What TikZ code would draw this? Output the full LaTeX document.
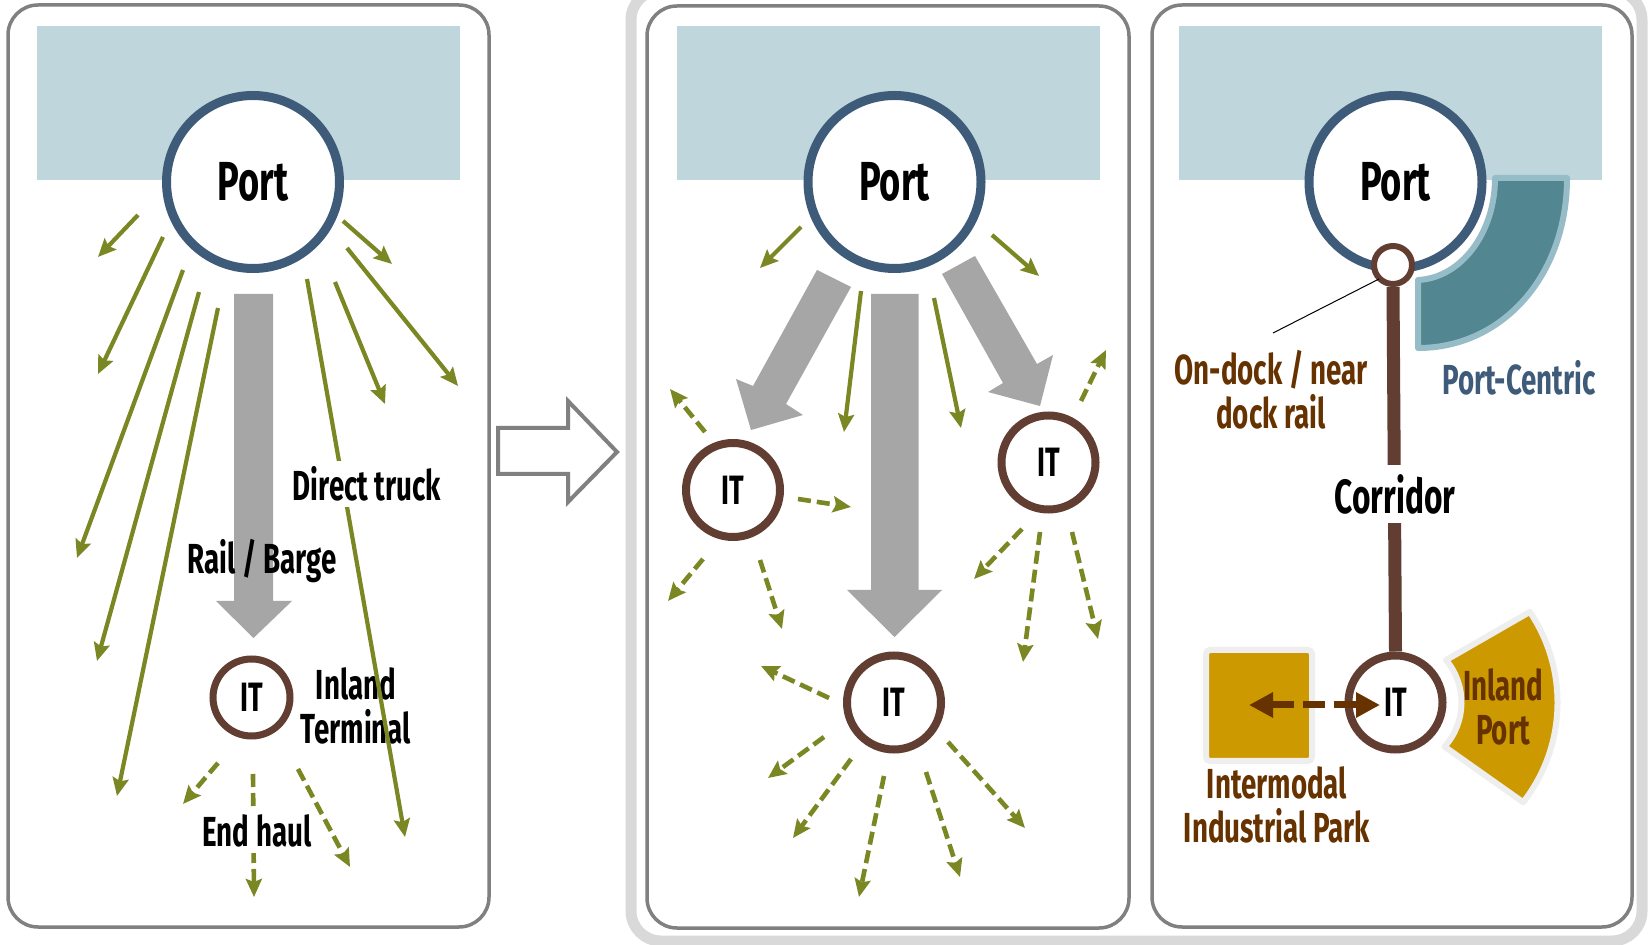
\documentclass[tikz,border=0pt]{standalone}
\usepackage{fontspec}
\setmainfont{Fira Sans}[FakeStretch=0.66]
\usetikzlibrary{arrows.meta,calc}
\definecolor{seac}{RGB}{192,214,221}
\definecolor{portc}{RGB}{62,92,122}
\definecolor{itc}{RGB}{97,62,49}
\definecolor{olivec}{RGB}{122,135,35}
\definecolor{greyarr}{RGB}{166,166,166}
\definecolor{panelc}{RGB}{128,128,128}
\definecolor{bandc}{RGB}{217,217,217}
\definecolor{tealc}{RGB}{82,134,144}
\definecolor{tealb}{RGB}{150,189,199}
\definecolor{goldc}{RGB}{204,153,0}
\definecolor{goldb}{RGB}{238,238,238}
\definecolor{btext}{RGB}{102,51,0}
\begin{document}
\begin{tikzpicture}[x=0.5pt,y=-0.5pt,
  panel/.style={draw=panelc, line width=1.75pt, rounded corners=15pt, fill=white},
  seabox/.style={fill=seac},
  portnode/.style={circle, draw=portc, line width=4.5pt, fill=white, minimum size=86.5pt, inner sep=0pt, font=\fontsize{27.5pt}{30pt}\selectfont\bfseries},
  itnode/.style={circle, draw=itc, line width=4pt, fill=white, minimum size=47pt, inner sep=0pt, font=\fontsize{20.5pt}{22pt}\selectfont\bfseries},
  itsmall/.style={itnode, line width=3.5pt, minimum size=38.5pt},
  truck/.style={draw=olivec, line width=2.1pt, -{Stealth[length=9pt,width=8pt,inset=1.5pt]}},
  endhaul/.style={truck, line width=2.3pt, dash pattern=on 6.5pt off 3pt},
  bigarrow/.style={fill=greyarr},
  lbl/.style={font=\fontsize{21pt}{22pt}\selectfont\bfseries, align=center, inner sep=1pt},
  brownarrow/.style={draw=btext, line width=3.5pt, dash pattern=on 11pt off 4.5pt, {Triangle[length=12pt,width=12pt]}-{Triangle[length=12pt,width=12pt]}}
]
\useasboundingbox (0,0) rectangle (1649,945);
\fill[white] (0,0) rectangle (1649,945);

% outer band round panels 2 and 3
\draw[bandc, line width=5.5pt, rounded corners=15pt] (631,-10) rectangle (1642,941);

% panels
\draw[panel] (8,5) rectangle (489,927);
\draw[panel] (647,6) rectangle (1129,928);
\draw[panel] (1152,5) rectangle (1632,927);

% sea
\fill[seabox] (37,26) rectangle (460,180);
\fill[seabox] (677,26) rectangle (1100,180);
\fill[seabox] (1179,26) rectangle (1602,180);

% hollow arrow between panels
\draw[panelc, line width=2pt, fill=white, line join=miter] (498,428) -- (568,428) -- (568,401) -- (617,452) -- (568,502) -- (568,474) -- (498,474) -- cycle;

%================ Panel 1
\fill[bigarrow] (234,294) -- (273,294) -- (273,601) -- (292,601) -- (253.5,638) -- (216,601) -- (234,601) -- cycle;
\node[portnode] (port1) at (253,182) {Port};
\node[itsmall] (it1) at (251.5,697.5) {IT};
\node[lbl] (inlandt) at (356,706) {Inland\\Terminal};
\foreach \a/\b/\c/\d [count=\i] in {138/215/98/257, 163/237/98/374, 183/270/77/558, 199/292/97/661, 218/308/117/796, 343/221/392/264, 347/248/458/386, 335/282/385/404, 307/279/405/837}{
  \coordinate (pa\i) at (\a,\b);
  \coordinate (pb\i) at (\c,\d);
  \draw[truck] (pa\i) -- (pb\i);
}
\foreach \a/\b/\c/\d [count=\i] in {218/763/183/804, 253/774/254/897, 298/769/350/867}{
  \coordinate (qa\i) at (\a,\b);
  \coordinate (qb\i) at (\c,\d);
  \draw[endhaul] (qa\i) -- (qb\i);
}
\node[lbl, fill=white, inner sep=3pt] (dtruck) at (367,484) {Direct truck};
\node[lbl] (rail) at (262,561) {Rail / Barge};
\node[lbl, fill=white, inner sep=3pt] (endh) at (257,831) {End haul};

%================ Panel 2
\fill[bigarrow] (871,294) -- (918.5,294) -- (918.5,590) -- (942,590) -- (894.5,637) -- (847,590) -- (871,590) -- cycle;
\fill[bigarrow] (817,270) -- (851,287) -- (786,404) -- (803,415) -- (751,430) -- (736,379) -- (753,386) -- cycle;
\fill[bigarrow] (942,274) -- (975,256) -- (1037,364) -- (1053,355) -- (1040,406) -- (988,392) -- (1003,383) -- cycle;
\node[portnode] (port2) at (894.5,182) {Port};
\node[itnode] (itL) at (733,490) {IT};
\node[itnode] (itR) at (1048.5,462.5) {IT};
\node[itnode] (itB) at (894,702.5) {IT};
\foreach \a/\b/\c/\d [count=\i] in {801/227/760/268, 992/235/1039/276, 861/291/844/432, 934/298/961/428}{
  \coordinate (ra\i) at (\a,\b);
  \coordinate (rb\i) at (\c,\d);
  \draw[truck] (ra\i) -- (rb\i);
}
\foreach \a/\b/\c/\d [count=\i] in {705/432/670/389, 798/499/851/507, 703/559/668/601, 760/560/782/629, 1081/401/1106/350, 1022/529/974/579, 1040/532/1023/662, 1072/532/1098/639, 829/698/761/666, 824/737/768/778, 851/759/793/838, 884/776/859/897, 926/772/960/877, 948/742/1025/828}{
  \coordinate (sa\i) at (\a,\b);
  \coordinate (sb\i) at (\c,\d);
  \draw[endhaul] (sa\i) -- (sb\i);
}

%================ Panel 3
\path[fill=tealc, draw=tealb, line width=3pt, line join=round] (1567,178) .. controls (1567,275) and (1503,348) .. (1418,348) -- (1418,280) .. controls (1461,278) and (1495,233) .. (1495,178) -- cycle;
\node[portnode] (port3) at (1395.5,182) {Port};
\node[itnode] (it3) at (1395.5,702.5) {};
\node[circle, draw=itc, line width=3pt, fill=white, minimum size=19pt, inner sep=0pt] (dockc) at (1393,265) {};
\draw[itc, line width=6.5pt] (dockc.south) -- (it3.north);
\node[lbl, fill=white, inner xsep=2pt, inner ysep=4.5pt, font=\fontsize{24pt}{26pt}\selectfont\bfseries] (corr) at (1395,494) {Corridor};
\coordinate (ldA) at (1379,279);
\coordinate (ldB) at (1273,333);
\draw[black, line width=0.5pt] (ldA) -- (ldB);
\node[lbl, text=btext] (dock) at (1271,390) {On-dock / near\\dock rail};
\node[lbl, text=portc] (pc) at (1519,378) {Port-Centric};

% inland port sector
\path[fill=goldc, draw=goldb, line width=3pt, line join=round]
  ($(it3.center)+(-34:162)$) arc[start angle=-34, end angle=38, radius=162]
  -- ($(it3.center)+(42:66)$) arc[start angle=42, end angle=-40, radius=66] -- cycle;
\node[lbl, text=btext] (inp) at (1503,707) {Inland\\Port};

% intermodal industrial park
\path[fill=goldc, draw=goldb, line width=3pt, rounded corners=2pt] (1206,650) rectangle (1312,761);
\node[lbl, text=btext] (imp) at (1277,805) {Intermodal\\Industrial Park};

\coordinate (dl) at (1249,705);
\coordinate (dr) at (1380,705);
\draw[brownarrow] (dl) -- (dr);
\node[font=\fontsize{20.5pt}{22pt}\selectfont\bfseries, inner sep=0pt] (it3t) at (it3.center) {IT};
\end{tikzpicture}
\end{document}
